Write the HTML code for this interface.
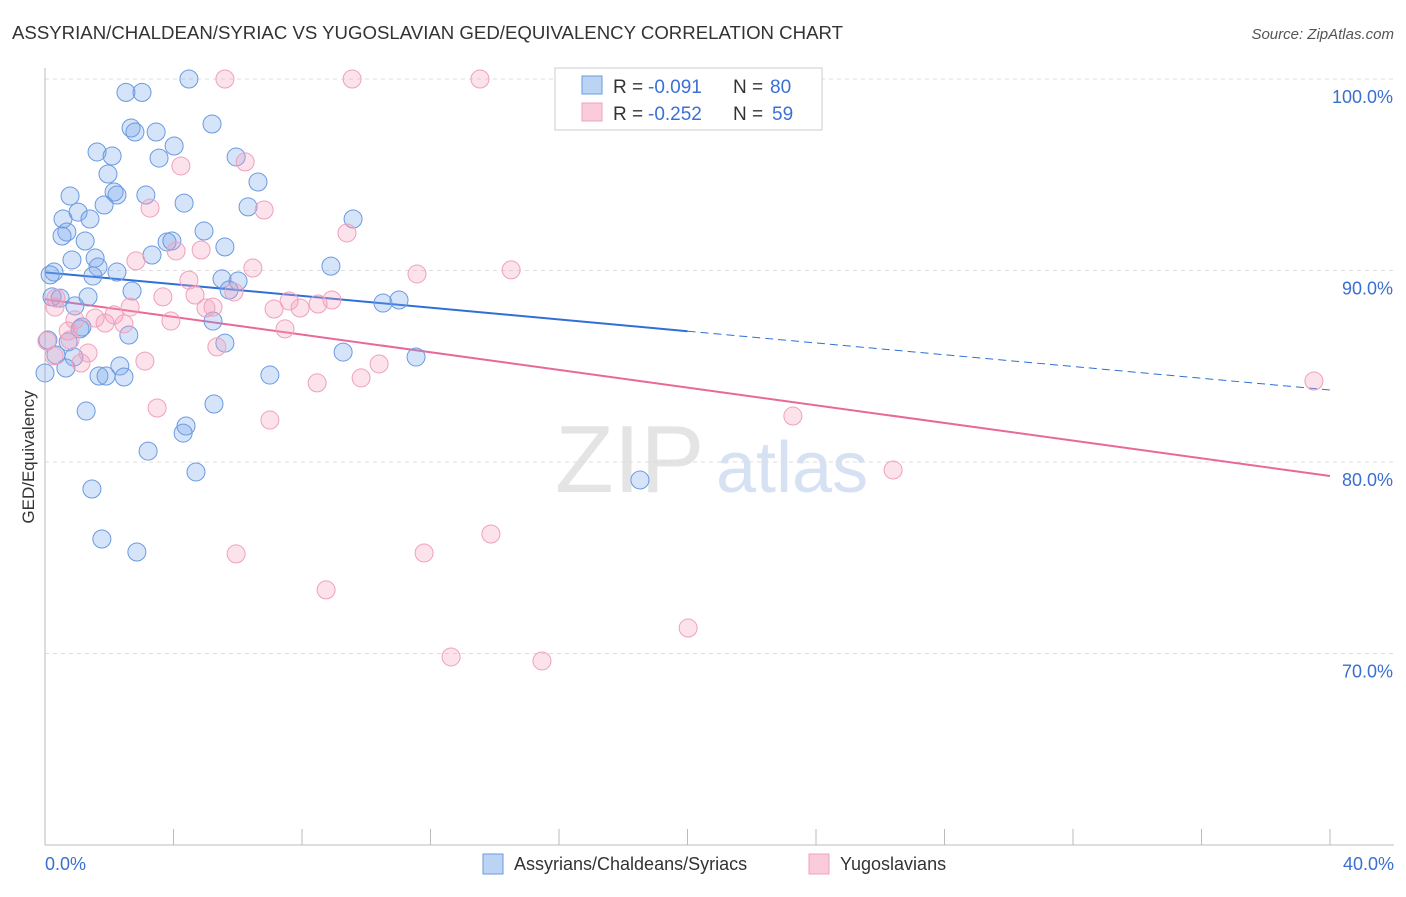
<!DOCTYPE html>
<html><head><meta charset="utf-8">
<style>
body{margin:0;background:#fff;font-family:"Liberation Sans",sans-serif;}
svg text{font-family:"Liberation Sans",sans-serif;}
</style></head>
<body>
<svg id="chart" width="1406" height="892" xmlns="http://www.w3.org/2000/svg">
<text x="12" y="39" font-size="18" fill="#333" textLength="831" lengthAdjust="spacingAndGlyphs">ASSYRIAN/CHALDEAN/SYRIAC VS YUGOSLAVIAN GED/EQUIVALENCY CORRELATION CHART</text>
<text x="1394" y="39" font-size="15" fill="#555" text-anchor="end" font-style="italic">Source: ZipAtlas.com</text>
<text x="555" y="492" font-size="96" fill="#e4e4e4" font-family="Liberation Serif">ZIP</text>
<text x="716" y="492" font-size="72" fill="#d6e2f4">atlas</text>
<g id="grid"></g>
<g id="axes"></g>
<g id="lines"></g>
<g id="points"></g>
<text transform="translate(34,457) rotate(-90)" font-size="17" fill="#333" text-anchor="middle">GED/Equivalency</text>
<g>
<rect x="555" y="68" width="267" height="62" fill="#fff" stroke="#ccc"/>
<rect x="582" y="76" width="20" height="18" fill="#bcd4f4" stroke="#6a9ae0"/>
<rect x="582" y="103" width="20" height="18" fill="#f9cbdb" stroke="#f0a0bc"/>
<text x="613" y="93" font-size="19" fill="#333">R =</text>
<text x="648" y="93" font-size="19" fill="#3a70d8">-0.091</text>
<text x="733" y="93" font-size="19" fill="#333">N =</text>
<text x="770" y="93" font-size="19" fill="#3a70d8">80</text>
<text x="613" y="120" font-size="19" fill="#333">R =</text>
<text x="648" y="120" font-size="19" fill="#3a70d8">-0.252</text>
<text x="733" y="120" font-size="19" fill="#333">N =</text>
<text x="772" y="120" font-size="19" fill="#3a70d8">59</text>
</g>
<g>
<rect x="483" y="854" width="20" height="20" fill="#bcd4f4" stroke="#6a9ae0"/>
<text x="514" y="870" font-size="18" fill="#333">Assyrians/Chaldeans/Syriacs</text>
<rect x="809" y="854" width="20" height="20" fill="#f9cbdb" stroke="#f0a0bc"/>
<text x="840" y="870" font-size="18" fill="#333">Yugoslavians</text>
</g>
</svg>
<script>
const blueX=[4.48,2.52,3.02,5.20,2.68,2.80,3.46,4.02,1.62,2.09,3.55,5.95,1.96,6.63,2.15,2.24,0.78,3.14,4.33,1.84,6.32,1.03,0.56,1.40,9.59,0.68,0.53,4.95,3.80,3.95,1.25,5.60,3.33,1.56,0.84,1.65,8.90,0.28,0.16,2.24,1.49,5.51,6.01,5.73,2.71,0.22,0.47,1.34,10.52,11.02,0.93,5.23,1.15,1.09,2.61,0.09,0.72,5.60,9.28,11.55,0.34,0.90,2.33,0.65,0,7.00,1.68,1.90,2.46,5.26,1.28,4.39,4.30,3.21,4.70,1.46,18.52,1.77,2.86];
const blueY=[100,99.3,99.3,97.65,97.44,97.23,97.23,96.5,96.19,95.98,95.87,95.93,95.04,94.62,94.10,93.94,93.89,93.94,93.52,93.42,93.32,93.05,92.69,92.69,92.69,92.01,91.80,92.06,91.49,91.54,91.54,91.23,90.81,90.65,90.55,90.18,90.23,89.92,89.77,89.92,89.71,89.56,89.45,88.98,88.93,88.62,88.56,88.62,88.30,88.46,88.15,87.36,87.05,86.95,86.63,86.37,86.27,86.21,85.74,85.48,85.59,85.48,85.01,84.91,84.65,84.54,84.49,84.49,84.44,83.03,82.66,81.88,81.51,80.57,79.48,78.59,79.06,75.98,75.30];
const pinkX=[5.60,9.56,13.54,4.23,6.23,3.27,6.82,9.40,4.86,4.08,2.83,6.47,11.58,14.51,4.48,0.34,0.31,3.67,4.67,5.88,2.65,5.23,5.01,7.60,7.94,7.13,8.93,8.50,1.56,1.87,2.15,2.46,0.93,3.92,0.72,7.47,5.35,1.34,0.06,0.28,3.11,1.12,10.40,8.47,9.84,3.49,7.00,23.28,26.40,13.88,5.95,11.80,8.75,20.02,12.64,15.47,39.50,0.78];
const pinkY=[100,100,100,95.46,95.67,93.26,93.16,91.96,91.07,91.02,90.50,90.13,89.82,90.03,89.50,88.56,88.09,88.62,88.72,88.88,88.09,88.09,88.04,88.41,88.04,87.99,88.46,88.25,87.52,87.26,87.68,87.21,87.42,87.36,86.84,86.95,86.01,85.69,86.32,85.54,85.27,85.17,85.12,84.13,84.39,82.82,82.19,82.40,79.58,76.24,75.20,75.25,73.32,71.33,69.82,69.61,84.23,86.37];
const blueTrend=[89.9,83.76];
const pinkTrend=[88.5,79.27];
const yTicks=[100,90,80,70];
const xTickVals=[0,4,8,12,16,20,24,28,32,36,40];
const NS="http://www.w3.org/2000/svg";
const sx=v=>45+v*32.125;
const sy=v=>79+(100-v)*19.15;
function mk(tag,attrs,parent){const e=document.createElementNS(NS,tag);for(const k in attrs)e.setAttribute(k,attrs[k]);document.getElementById(parent).appendChild(e);return e;}
yTicks.forEach(t=>{
 const g=mk('line',{x1:45,x2:1394,y1:sy(t),y2:sy(t),stroke:'#ddd','stroke-dasharray':'4,4'},'grid');
 
 
 const l=mk('text',{x:1393,y:sy(t)+24,'font-size':18,fill:'#3a6fd0','text-anchor':'end'},'grid');
 l.textContent=t.toFixed(1)+'%';
 
 
});
const ax=mk('line',{x1:45,x2:1394,y1:845,y2:845,stroke:'#bbb'},'axes');


const ay=mk('line',{x1:45,x2:45,y1:68,y2:845,stroke:'#bbb'},'axes');


xTickVals.forEach(t=>{
 const k=mk('line',{x1:sx(t),x2:sx(t),y1:829,y2:845,stroke:'#bbb'},'axes');
 
 
});
[[0,'start'],[40,'end']].forEach(([t,a])=>{
 const l=mk('text',{x:t===0?45:1394,y:870,'font-size':18,fill:'#3a6fd0','text-anchor':a},'axes');
 l.textContent=t.toFixed(1)+'%';
 
 
});
function pts(X,Y,fill,stroke,name){
 X.forEach((x,i)=>{
  const c=mk('circle',{cx:sx(x),cy:sy(Y[i]),r:9,fill:fill,stroke:stroke,'stroke-width':1},'points');
  
  
 });
}
pts(blueX,blueY,'rgba(120,165,235,0.3)','#6a9ae0','assyrian-point');
pts(pinkX,pinkY,'rgba(245,160,190,0.3)','#f0a0bc','yugoslavian-point');
const yb=x=>blueTrend[0]+(blueTrend[1]-blueTrend[0])*x/40;
const yp=x=>pinkTrend[0]+(pinkTrend[1]-pinkTrend[0])*x/40;
const b1=mk('line',{x1:sx(0),y1:sy(yb(0)),x2:sx(20),y2:sy(yb(20)),stroke:'#2f6fd6','stroke-width':2},'lines');


const b2=mk('line',{x1:sx(20),y1:sy(yb(20)),x2:sx(40),y2:sy(yb(40)),stroke:'#2f6fd6','stroke-width':1,'stroke-dasharray':'8,5'},'lines');


const p1=mk('line',{x1:sx(0),y1:sy(yp(0)),x2:sx(40),y2:sy(yp(40)),stroke:'#e8689a','stroke-width':2},'lines');


</script>
</body></html>
